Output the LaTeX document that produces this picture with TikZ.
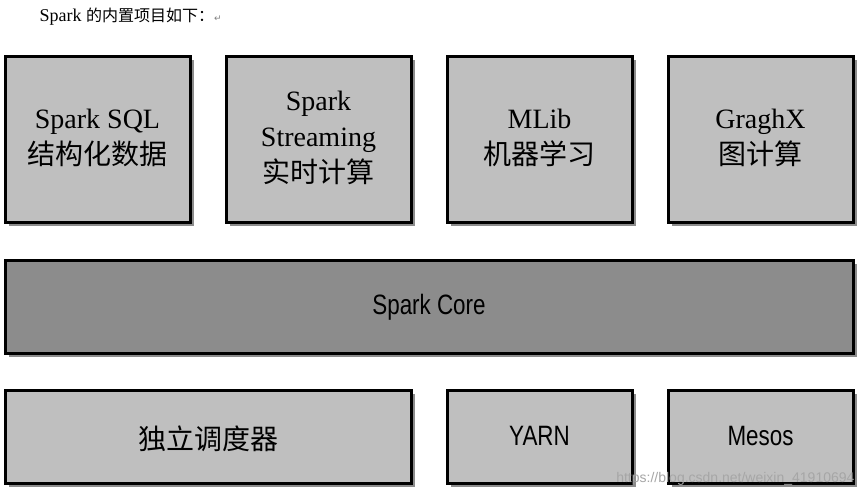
\documentclass[tikz,border=0pt]{standalone}
\usepackage{fontspec}
\setmainfont{Liberation Serif}
\newfontfamily\cjk{Noto Sans CJK SC}
\newfontfamily\sansf{Liberation Sans}
\newfontfamily\djv{DejaVu Sans}
\begin{document}
\begin{tikzpicture}[x=1pt,y=-1pt,
  box/.style={draw=black,line width=3pt,fill=#1,inner sep=0pt},
  lbl/.style={align=center,font=\fontsize{28}{36}\selectfont},
  slbl/.style={font=\sansf\fontsize{28}{32}\selectfont,xscale=0.8}]
\useasboundingbox (0,0) rectangle (864,498);
\fill[white] (0,0) rectangle (864,498);
\tikzset{pics/bx/.style args={#1/#2/#3/#4/#5}{code={
  \fill[black!45] (#1+4,#2+4) rectangle (#3+4,#4+4);
  \draw[box=#5] (#1,#2) rectangle (#3,#4);}}}
\pic at (0,0) {bx=5/56/190/222/black!25};
\pic at (0,0) {bx=226/56/411/222/black!25};
\pic at (0,0) {bx=447/56/632/222/black!25};
\pic at (0,0) {bx=668/56/853/222/black!25};
\pic at (0,0) {bx=5/260/853/353/black!45};
\pic at (0,0) {bx=5/390/411/483/black!25};
\pic at (0,0) {bx=447/390/632/483/black!25};
\pic at (0,0) {bx=668/390/853/483/black!25};
\node[anchor=west,font=\fontsize{18}{20}\selectfont] (t) at (36,17) {Spark {\cjk\fontsize{16}{20}\selectfont 的内置项目如下：}{\djv\fontsize{9}{9}\selectfont\textcolor{black!50}{↵}}};
\node[lbl] (a) at (97.5,138) {Spark SQL\\{\cjk 结构化数据}};
\node[lbl] (b) at (318.5,138) {Spark\\Streaming\\{\cjk 实时计算}};
\node[lbl] (c) at (539.5,138) {MLib\\{\cjk 机器学习}};
\node[lbl] (d) at (760.5,138) {GraghX\\{\cjk 图计算}};
\node[slbl] (e) at (429,307) {Spark Core};
\node[lbl] (f) at (208,439) {\cjk 独立调度器};
\node[slbl] (g) at (539.5,436) {YARN};
\node[slbl] (h) at (760.5,436) {Mesos};
\node[anchor=east,font=\sansf\fontsize{14}{16}\selectfont,text=black!35] (w) at (858,479) {https://blog.csdn.net/weixin\_41910694};
\end{tikzpicture}
\end{document}
